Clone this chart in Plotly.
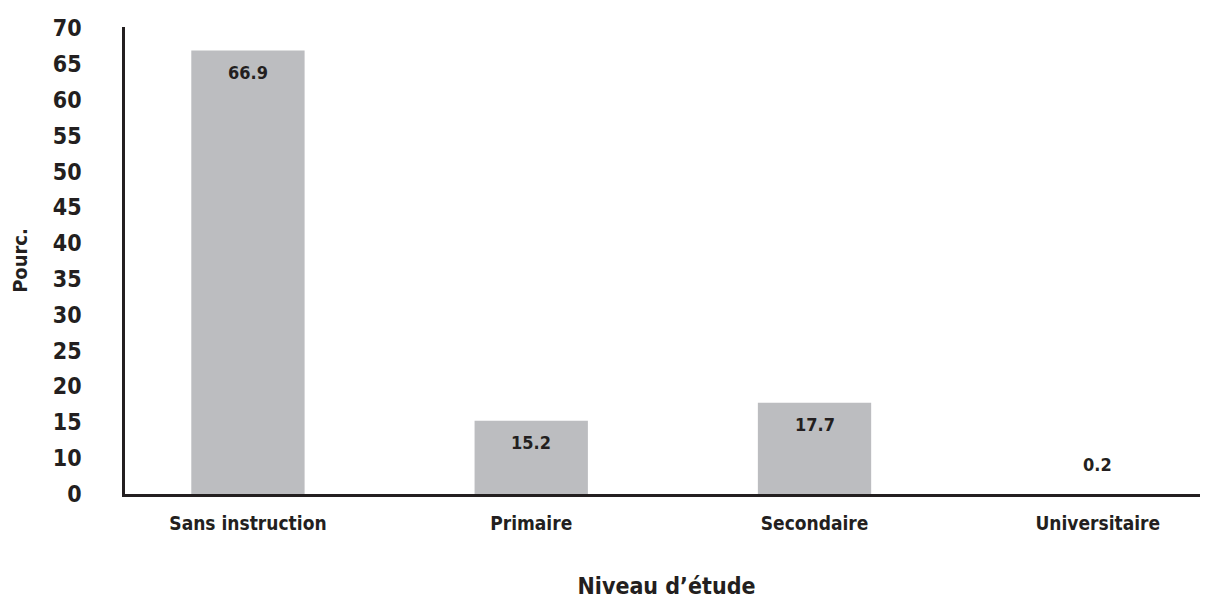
import plotly.graph_objects as go

categories = ["Sans instruction", "Primaire", "Secondaire", "Universitaire"]
values = [66.9, 15.2, 17.7, 0.2]
value_labels = ["66.9", "15.2", "17.7", "0.2"]
y_tick_vals = [10, 15, 20, 25, 30, 35, 40, 45, 50, 55, 60, 65, 70]
y_tick_text = ["10", "15", "20", "25", "30", "35", "40", "45", "50", "55", "60", "65", "70"]

Y_MIN = 4.95
Y_MAX = 70.2
FONT = "Liberation Sans Narrow, DejaVu Sans Condensed, Roboto, Arial, sans-serif"
INK = "#231f20"
BAR = "#bcbdc0"

fig = go.Figure()
fig.add_trace(go.Bar(
    x=categories,
    y=values,
    width=0.4,
    marker=dict(color=BAR, line=dict(width=0)),
    hoverinfo="skip",
))

annotations = []
for cat, v, lab in zip(categories, values, value_labels):
    inside = v > 8
    annotations.append(dict(
        x=cat, y=max(v, Y_MIN + 0.01), xref="x", yref="y",
        text="<b>" + lab + "</b>", showarrow=False,
        yanchor="middle", yshift=-22 if inside else 29,
        font=dict(family=FONT, size=18, color=INK),
    ))

fig.update_layout(
    width=1200, height=596,
    margin=dict(l=117, r=0, t=19, b=110),
    paper_bgcolor="white", plot_bgcolor="white",
    showlegend=False,
    font=dict(family=FONT, color=INK),
    annotations=annotations,
    xaxis=dict(
        type="category",
        range=[-0.434, 3.389],
        showline=True, linecolor=INK, linewidth=2.5,
        showgrid=False, zeroline=False,
        ticks="", ticklabelstandoff=10,
        tickfont=dict(family=FONT, size=19, color=INK, weight="bold"),
        title=dict(text="<b>Niveau d’étude</b>", standoff=46,
                   font=dict(family=FONT, size=23, color=INK)),
    ),
    yaxis=dict(
        range=[Y_MIN, Y_MAX],
        tickmode="array",
        tickvals=[Y_MIN] + y_tick_vals,
        ticktext=["0"] + y_tick_text,
        showline=True, linecolor=INK, linewidth=2.5,
        showgrid=False, zeroline=False,
        ticks="", ticklabelstandoff=36,
        tickfont=dict(family=FONT, size=23, color=INK, weight="bold"),
        title=dict(text="<b>Pourc.</b>", standoff=25,
                   font=dict(family=FONT, size=20, color=INK)),
    ),
)

fig.write_html("out.html")
